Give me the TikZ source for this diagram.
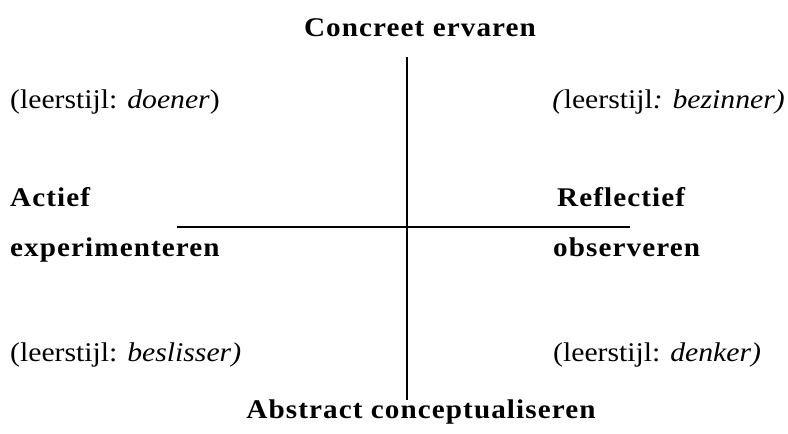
\documentclass[tikz,border=0pt]{standalone}
\usepackage{fontspec}
\setmainfont{Liberation Serif}[FakeStretch=1.1]
\newfontfamily\kopfont{Liberation Serif}[FakeStretch=1.08,LetterSpace=4]
\usetikzlibrary{positioning}

\begin{document}
\begin{tikzpicture}[x=1pt,y=-1pt,
   kop/.style={inner sep=0pt,font=\kopfont\bfseries\fontsize{27}{30}\selectfont},
   stijl/.style={inner sep=0pt,font=\fontsize{27}{30}\selectfont},
   as/.style={line width=1.2pt,black}]
  \useasboundingbox (0,0) rectangle (788,434);
  % assen
  \coordinate (boven) at (407,57);
  \coordinate (onder) at (407,400);
  \coordinate (links) at (177,227);
  \coordinate (rechts) at (630,227);
  \draw[as] (boven) -- (onder);
  \draw[as] (links) -- (rechts);
  % polen
  \node[kop,anchor=base] (ce) at (420,36) {Concreet ervaren};
  \node[kop,anchor=base] (ac) at (421,418) {Abstract\ conceptualiseren};
  \node[kop,anchor=base west] (ae1) at (10,206) {Actief};
  \node[kop,anchor=base west] (ae2) at (10,256) {experimenteren};
  \node[kop,anchor=base west] (ro1) at (557,206) {Reflectief};
  \node[kop,anchor=base west] (ro2) at (553,256) {observeren};
  % leerstijlen
  \node[stijl,anchor=base west] (doe) at (10,108) {(leerstijl: \textit{doener})};
  \node[stijl,anchor=base east] (bez) at (785,108) {\textit{(}leerstijl\textit{: bezinner)}};
  \node[stijl,anchor=base west] (bes) at (10,361) {(leerstijl: \textit{beslisser)}};
  \node[stijl,anchor=base west] (den) at (553,361) {(leerstijl: \textit{denker)}};
\end{tikzpicture}
\end{document}
